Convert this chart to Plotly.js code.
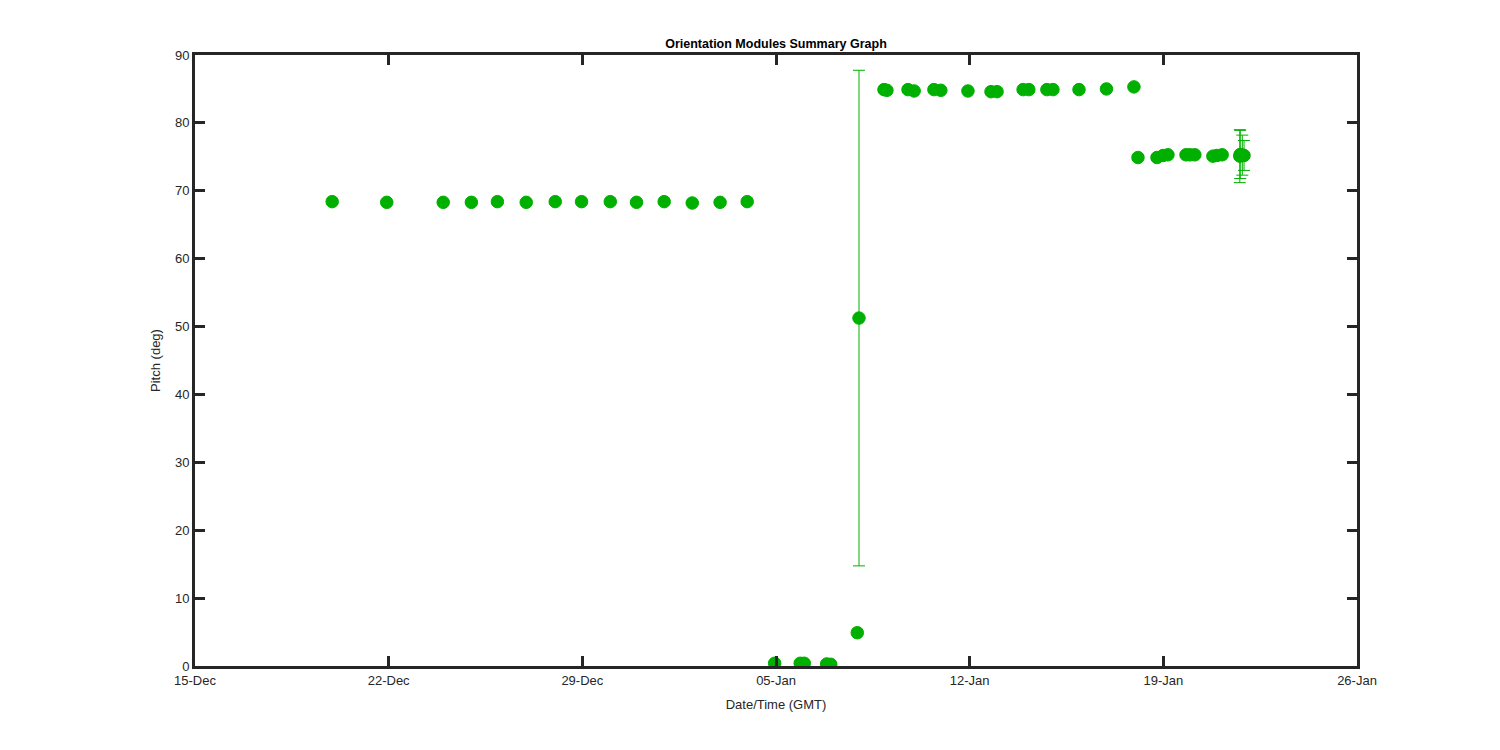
<!DOCTYPE html>
<html>
<head>
<meta charset="utf-8">
<script src="https://cdn.plot.ly/plotly-3.0.1.min.js"></script>
<style>html,body{margin:0;padding:0;background:#fff;}#chart{width:1500px;height:750px;}</style>
</head>
<body>
<div id="chart"></div>
<script>
var dates = [
  '2015-12-19 23:00','2015-12-21 22:20','2015-12-23 23:20','2015-12-24 23:45','2015-12-25 22:20',
  '2015-12-26 23:20','2015-12-28 00:30','2015-12-28 23:20','2015-12-30 00:15','2015-12-30 23:00',
  '2015-12-31 23:00','2016-01-01 23:20','2016-01-02 23:30','2016-01-03 23:00',
  '2016-01-04 22:50','2016-01-05 21:00','2016-01-06 00:30','2016-01-06 20:00','2016-01-06 23:30',
  '2016-01-07 22:30','2016-01-08 00:00',
  '2016-01-08 21:40','2016-01-09 00:15','2016-01-09 18:30','2016-01-09 23:50','2016-01-10 17:00',
  '2016-01-10 23:00','2016-01-11 22:30','2016-01-12 18:30','2016-01-12 23:45','2016-01-13 22:20',
  '2016-01-14 03:20','2016-01-14 19:00','2016-01-15 00:15','2016-01-15 22:50','2016-01-16 22:40',
  '2016-01-17 22:30',
  '2016-01-18 02:00','2016-01-18 18:30','2016-01-18 23:45','2016-01-19 04:00','2016-01-19 19:40',
  '2016-01-19 23:00','2016-01-20 03:20','2016-01-20 19:00','2016-01-20 22:30','2016-01-21 03:00',
  '2016-01-21 18:20','2016-01-21 18:40','2016-01-21 20:30','2016-01-21 22:00'
];
var pitch = [
  68.4, 68.3, 68.3, 68.3, 68.4,
  68.3, 68.4, 68.4, 68.4, 68.3,
  68.4, 68.2, 68.3, 68.4,
  0.4, 0.4, 0.4, 0.3, 0.25,
  4.9, 51.25,
  84.9, 84.8, 84.9, 84.7, 84.9,
  84.8, 84.7, 84.6, 84.6, 84.9,
  84.9, 84.9, 84.9, 84.9, 85.0,
  85.3,
  74.9, 74.9, 75.2, 75.3, 75.3,
  75.3, 75.3, 75.1, 75.2, 75.3,
  75.1, 75.35, 75.25, 75.2
];
var pitchErr = [
  0.2, 0.2, 0.2, 0.2, 0.2,
  0.2, 0.2, 0.2, 0.2, 0.2,
  0.2, 0.2, 0.2, 0.2,
  0.2, 0.2, 0.2, 0.2, 0.2,
  0.3, 36.5,
  0.2, 0.2, 0.2, 0.2, 0.2,
  0.2, 0.2, 0.2, 0.2, 0.2,
  0.2, 0.2, 0.2, 0.2, 0.2,
  0.2,
  0.3, 0.3, 0.3, 0.3, 0.3,
  0.3, 0.3, 0.3, 0.3, 0.3,
  3.9, 3.55, 2.95, 2.2
];
var xTickVals = ['2015-12-15','2015-12-22','2015-12-29','2016-01-05','2016-01-12','2016-01-19','2016-01-26'];
var xTickText = ['15-Dec','22-Dec','29-Dec','05-Jan','12-Jan','19-Jan','26-Jan'];
var yTickVals = [0,10,20,30,40,50,60,70,80,90];

var green = 'rgb(0,176,0)';
var axisColor = '#262626';
var font = 'Liberation Sans, Arial, Helvetica, sans-serif';

var traces = [
  {
    x: dates, y: pitch, type: 'scatter', mode: 'markers',
    marker: {size: 1, color: 'rgba(0,0,0,0)'},
    error_y: {type: 'data', array: pitchErr, visible: true, color: green, thickness: 1, width: 6},
    hoverinfo: 'skip', showlegend: false
  },
  {
    x: dates, y: pitch, type: 'scatter', mode: 'markers',
    marker: {size: 12.5, color: green, line: {color: green, width: 1}},
    showlegend: false
  }
];

var axisCommon = {
  showline: true, linecolor: axisColor, linewidth: 3, mirror: 'ticks',
  ticks: 'inside', ticklen: 10, tickwidth: 3, tickcolor: axisColor,
  showgrid: false, zeroline: false,
  tickfont: {family: font, size: 13, color: axisColor}
};

var layout = {
  width: 1500, height: 750,
  margin: {l: 195, r: 143, t: 55, b: 84, pad: 0},
  paper_bgcolor: '#fff', plot_bgcolor: '#fff',
  title: {text: '<b>Orientation Modules Summary Graph</b>', font: {family: font, size: 12.5, color: '#000'},
          x: 0.5, xref: 'paper', xanchor: 'center', y: 0.9413, yref: 'container', yanchor: 'middle'},
  xaxis: Object.assign({}, axisCommon, {
    type: 'date', range: ['2015-12-15', '2016-01-26'], tickmode: 'array',
    tickvals: xTickVals, ticktext: xTickText,
    title: {text: 'Date/Time (GMT)', font: {family: font, size: 13, color: axisColor}, standoff: 14}
  }),
  yaxis: Object.assign({}, axisCommon, {
    range: [0, 90], tickmode: 'array', tickvals: yTickVals,
    title: {text: 'Pitch (deg)', font: {family: font, size: 13, color: axisColor}, standoff: 12}
  })
};

Plotly.newPlot('chart', traces, layout, {displayModeBar: false, staticPlot: true});
</script>
</body>
</html>
